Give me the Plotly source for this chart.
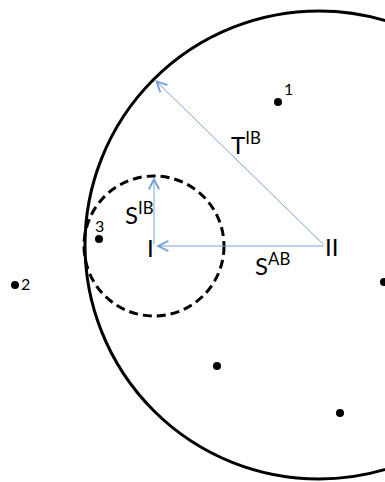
import plotly.graph_objects as go

# Геометрия схемы (координаты в пикселях исходного рисунка, ось y вниз)
big_center = [319, 245]
big_radius = 234
small_center = [154, 246]
small_radius = 70

dot_x = [278, 15, 99, 384, 217, 340]
dot_y = [102, 285, 239, 282, 366, 413]
dot_names = ["1", "2", "3", "", "", ""]

# Стрелки: начало -> конец
arrow_from_x = [325, 325, 154]
arrow_from_y = [246, 246, 246]
arrow_to_x = [155, 156, 154]
arrow_to_y = [80, 246, 177]

label_text = ["I", "II", "S<sup>IB</sup>", "T<sup>IB</sup>", "S<sup>AB</sup>"]
label_x = [150, 331, 139, 246, 272]
label_y = [247, 246, 213, 143, 264]

W, H = 385, 482
FONT = "Lato"
ARROW_COLOR = "#7aa3d9"

fig = go.Figure()

fig.add_trace(go.Scatter(
    x=dot_x, y=dot_y, mode="markers",
    marker=dict(size=8, color="black"),
    showlegend=False, hoverinfo="skip",
))

# Подписи точек: справа сверху от точки
for x, y, name in zip(dot_x, dot_y, dot_names):
    if not name:
        continue
    fig.add_annotation(
        x=x, y=y, text=name, showarrow=False,
        xanchor="left", yanchor="bottom", xshift=4 if name != "3" else -6,
        yshift=2 if name != "2" else -10,
        font=dict(size=16, color="black", family=FONT),
    )

# Окружности
fig.add_shape(
    type="circle", xref="x", yref="y",
    x0=big_center[0] - big_radius, x1=big_center[0] + big_radius,
    y0=big_center[1] - big_radius, y1=big_center[1] + big_radius,
    line=dict(color="black", width=3),
)
fig.add_shape(
    type="circle", xref="x", yref="y",
    x0=small_center[0] - small_radius, x1=small_center[0] + small_radius,
    y0=small_center[1] - small_radius, y1=small_center[1] + small_radius,
    line=dict(color="black", width=3, dash="9px,5px"),
)

for x0, y0, x1, y1 in zip(arrow_from_x, arrow_from_y, arrow_to_x, arrow_to_y):
    fig.add_annotation(
        x=x1, y=y1, ax=x0, ay=y0, xref="x", yref="y", axref="x", ayref="y",
        text="", showarrow=True, arrowhead=5, arrowsize=2, arrowwidth=1,
        arrowcolor=ARROW_COLOR,
    )

for t, x, y in zip(label_text, label_x, label_y):
    fig.add_annotation(
        x=x, y=y, text=t, showarrow=False,
        xanchor="center", yanchor="middle",
        font=dict(size=24, color="black", family=FONT),
    )

fig.update_xaxes(range=[0, W], visible=False, fixedrange=True)
fig.update_yaxes(range=[H, 0], visible=False, fixedrange=True)
fig.update_layout(
    width=W, height=H,
    margin=dict(l=0, r=0, t=0, b=0),
    plot_bgcolor="white", paper_bgcolor="white",
    showlegend=False,
)

# убрать стандартный отступ body, чтобы рисунок встал в угол окна
fig.write_html(
    "out.html",
    config={"displayModeBar": False},
    post_script="document.body.style.margin='0';",
)
